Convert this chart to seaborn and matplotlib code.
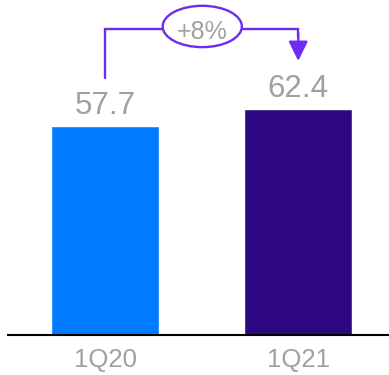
import matplotlib
matplotlib.use("Agg")
import matplotlib.pyplot as plt
from matplotlib.patches import Ellipse
import pandas as pd
import seaborn as sns

# Quarterly figures
quarters = ["1Q20", "1Q21"]
values = [57.7, 62.4]
bar_colors = ["#007AFF", "#2E0782"]
growth_label = "+8%"

sns.set_style("white")
plt.rcParams["font.family"] = ["Liberation Sans", "DejaVu Sans"]

gray = "#A0A0A0"
accent = "#6E2BF2"

df = pd.DataFrame({"quarter": quarters, "value": values})

fig = plt.figure(figsize=(3.89, 3.75), dpi=100)
ax = fig.add_axes([8 / 389, 40 / 375, 381 / 389, 335 / 375])

sns.barplot(data=df, x="quarter", y="value", hue="quarter",
            palette=bar_colors, width=0.56, saturation=1,
            legend=False, ax=ax)

ax.set_xlim(-0.503, 1.47)
ax.set_ylim(0, 92.4)

# value labels above the bars
for i, v in enumerate(values):
    ax.annotate(f"{v:.1f}", xy=(i, v), xytext=(0, 8.6), textcoords="offset points",
                ha="center", va="baseline", fontsize=22.5, color=gray)

# growth bracket with arrow
lift = 13.2
bracket_y = 84.3
y_start = values[0] + lift
y_tip = values[1] + lift
ax.plot([0, 0, 1, 1], [y_start, bracket_y, bracket_y, bracket_y - 2],
        color=accent, lw=1.7, solid_joinstyle="miter", clip_on=False, zorder=3)
ax.annotate("", xy=(1, y_tip), xytext=(1, bracket_y - 1),
            arrowprops=dict(arrowstyle="-|>,head_length=0.85,head_width=0.42",
                            mutation_scale=14, color=accent, lw=1.7,
                            shrinkA=0, shrinkB=0),
            zorder=3)
ax.add_patch(Ellipse((0.503, bracket_y + 0.8), width=0.41, height=11.4,
                     facecolor="white", edgecolor=accent, lw=1.7,
                     clip_on=False, zorder=4))
ax.text(0.5, bracket_y - 0.6, growth_label, ha="center", va="center",
        fontsize=18, color=gray, zorder=5)

# axes styling
for side in ["top", "right", "left"]:
    ax.spines[side].set_visible(False)
ax.spines["bottom"].set_color("black")
ax.spines["bottom"].set_linewidth(1.5)
ax.set_yticks([])
ax.set_xlabel("")
ax.set_ylabel("")
ax.tick_params(axis="x", length=0, pad=9, labelsize=18.5, labelcolor=gray)

fig.savefig("out.png", dpi=100)
